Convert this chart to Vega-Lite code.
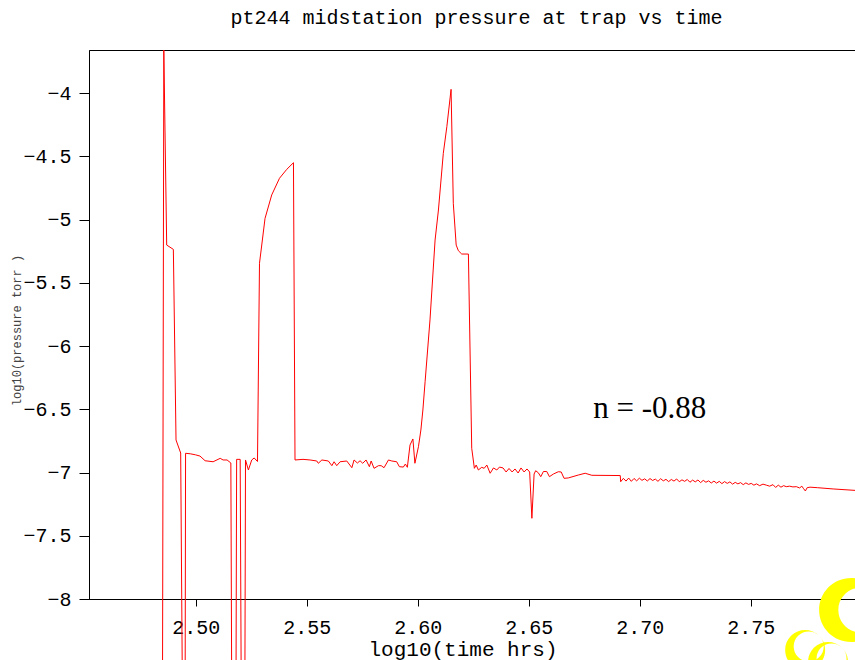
{
  "$schema": "https://vega.github.io/schema/vega-lite/v6.json",
  "width": 767,
  "height": 549,
  "autosize": {"type": "none"},
  "padding": {"left": 89, "top": 50, "right": 0, "bottom": 61},
  "background": "white",
  "config": {"view": {"stroke": "#000", "strokeWidth": 1}, "font": "Liberation Mono"},
  "title": {"text": "pt244 midstation pressure at trap vs time", "font": "Liberation Mono", "fontSize": 20, "fontWeight": "normal", "color": "#000", "anchor": "middle", "baseline": "alphabetic", "offset": 4, "dx": 4},
  "layer": [
    {
      "data": {"values": [
        {"t": 2.4850, "p": -8.8},
        {"t": 2.4856, "p": -3.66},
        {"t": 2.4869, "p": -5.202},
        {"t": 2.4899, "p": -5.236},
        {"t": 2.4911, "p": -6.743},
        {"t": 2.4932, "p": -6.846},
        {"t": 2.4940, "p": -8.8},
        {"t": 2.4952, "p": -8.8},
        {"t": 2.4954, "p": -6.848},
        {"t": 2.4975, "p": -6.852},
        {"t": 2.4998, "p": -6.860},
        {"t": 2.5019, "p": -6.870},
        {"t": 2.5042, "p": -6.907},
        {"t": 2.5078, "p": -6.915},
        {"t": 2.5110, "p": -6.888},
        {"t": 2.5123, "p": -6.901},
        {"t": 2.5141, "p": -6.901},
        {"t": 2.5158, "p": -6.925},
        {"t": 2.5162, "p": -8.8},
        {"t": 2.5181, "p": -8.8},
        {"t": 2.5184, "p": -6.896},
        {"t": 2.5200, "p": -6.896},
        {"t": 2.5205, "p": -8.8},
        {"t": 2.5221, "p": -8.8},
        {"t": 2.5224, "p": -6.901},
        {"t": 2.5237, "p": -6.980},
        {"t": 2.5252, "p": -6.901},
        {"t": 2.5263, "p": -6.885},
        {"t": 2.5278, "p": -6.913},
        {"t": 2.5287, "p": -5.346},
        {"t": 2.5312, "p": -4.991},
        {"t": 2.5342, "p": -4.806},
        {"t": 2.5377, "p": -4.674},
        {"t": 2.5410, "p": -4.603},
        {"t": 2.5440, "p": -4.551},
        {"t": 2.5447, "p": -6.901},
        {"t": 2.5483, "p": -6.896},
        {"t": 2.5515, "p": -6.901},
        {"t": 2.5545, "p": -6.909},
        {"t": 2.5552, "p": -6.927},
        {"t": 2.5568, "p": -6.901},
        {"t": 2.5597, "p": -6.909},
        {"t": 2.5613, "p": -6.946},
        {"t": 2.5623, "p": -6.915},
        {"t": 2.5635, "p": -6.946},
        {"t": 2.5650, "p": -6.915},
        {"t": 2.5680, "p": -6.909},
        {"t": 2.5703, "p": -6.962},
        {"t": 2.5713, "p": -6.901},
        {"t": 2.5728, "p": -6.925},
        {"t": 2.5740, "p": -6.907},
        {"t": 2.5752, "p": -6.927},
        {"t": 2.5767, "p": -6.901},
        {"t": 2.5782, "p": -6.954},
        {"t": 2.5790, "p": -6.909},
        {"t": 2.5803, "p": -6.967},
        {"t": 2.5823, "p": -6.946},
        {"t": 2.5835, "p": -6.946},
        {"t": 2.5848, "p": -6.962},
        {"t": 2.5868, "p": -6.901},
        {"t": 2.5883, "p": -6.909},
        {"t": 2.5905, "p": -6.915},
        {"t": 2.5917, "p": -6.954},
        {"t": 2.5935, "p": -6.957},
        {"t": 2.5944, "p": -6.933},
        {"t": 2.5953, "p": -6.959},
        {"t": 2.5965, "p": -6.783},
        {"t": 2.5978, "p": -6.735},
        {"t": 2.5987, "p": -6.927},
        {"t": 2.6003, "p": -6.796},
        {"t": 2.6014, "p": -6.664},
        {"t": 2.6023, "p": -6.506},
        {"t": 2.6033, "p": -6.282},
        {"t": 2.6055, "p": -5.794},
        {"t": 2.6078, "p": -5.162},
        {"t": 2.6093, "p": -4.925},
        {"t": 2.6115, "p": -4.477},
        {"t": 2.6131, "p": -4.266},
        {"t": 2.6150, "p": -3.971},
        {"t": 2.6160, "p": -4.872},
        {"t": 2.6173, "p": -5.202},
        {"t": 2.6183, "p": -5.247},
        {"t": 2.6198, "p": -5.273},
        {"t": 2.6228, "p": -5.273},
        {"t": 2.6243, "p": -6.809},
        {"t": 2.6255, "p": -6.967},
        {"t": 2.6263, "p": -6.941},
        {"t": 2.6273, "p": -6.980},
        {"t": 2.6288, "p": -6.959},
        {"t": 2.6299, "p": -6.967},
        {"t": 2.6311, "p": -6.941},
        {"t": 2.6326, "p": -7.006},
        {"t": 2.6341, "p": -6.964},
        {"t": 2.6356, "p": -6.980},
        {"t": 2.6368, "p": -6.957},
        {"t": 2.6384, "p": -6.964},
        {"t": 2.6398, "p": -6.996},
        {"t": 2.6411, "p": -6.968},
        {"t": 2.6425, "p": -6.996},
        {"t": 2.6438, "p": -6.972},
        {"t": 2.6452, "p": -7.004},
        {"t": 2.6465, "p": -6.964},
        {"t": 2.6479, "p": -6.996},
        {"t": 2.6492, "p": -6.972},
        {"t": 2.6504, "p": -6.996},
        {"t": 2.6514, "p": -7.362},
        {"t": 2.6524, "p": -7.012},
        {"t": 2.6531, "p": -6.986},
        {"t": 2.6543, "p": -7.002},
        {"t": 2.6554, "p": -7.033},
        {"t": 2.6566, "p": -6.992},
        {"t": 2.6581, "p": -6.992},
        {"t": 2.6593, "p": -7.033},
        {"t": 2.6611, "p": -7.012},
        {"t": 2.6633, "p": -6.994},
        {"t": 2.6646, "p": -6.996},
        {"t": 2.6659, "p": -7.046},
        {"t": 2.6678, "p": -7.043},
        {"t": 2.6723, "p": -7.020},
        {"t": 2.6754, "p": -7.006},
        {"t": 2.6784, "p": -7.022},
        {"t": 2.6912, "p": -7.024},
        {"t": 2.6914, "p": -7.073},
        {"t": 2.6926, "p": -7.046},
        {"t": 2.6938, "p": -7.068},
        {"t": 2.6950, "p": -7.044},
        {"t": 2.6962, "p": -7.070},
        {"t": 2.6974, "p": -7.047},
        {"t": 2.6986, "p": -7.066},
        {"t": 2.6998, "p": -7.045},
        {"t": 2.7010, "p": -7.062},
        {"t": 2.7022, "p": -7.050},
        {"t": 2.7034, "p": -7.067},
        {"t": 2.7046, "p": -7.048},
        {"t": 2.7058, "p": -7.063},
        {"t": 2.7070, "p": -7.052},
        {"t": 2.7082, "p": -7.070},
        {"t": 2.7094, "p": -7.049},
        {"t": 2.7106, "p": -7.066},
        {"t": 2.7118, "p": -7.054},
        {"t": 2.7130, "p": -7.072},
        {"t": 2.7142, "p": -7.055},
        {"t": 2.7154, "p": -7.068},
        {"t": 2.7166, "p": -7.051},
        {"t": 2.7178, "p": -7.073},
        {"t": 2.7190, "p": -7.058},
        {"t": 2.7202, "p": -7.070},
        {"t": 2.7214, "p": -7.055},
        {"t": 2.7226, "p": -7.077},
        {"t": 2.7238, "p": -7.060},
        {"t": 2.7250, "p": -7.074},
        {"t": 2.7262, "p": -7.059},
        {"t": 2.7274, "p": -7.080},
        {"t": 2.7286, "p": -7.062},
        {"t": 2.7298, "p": -7.077},
        {"t": 2.7310, "p": -7.066},
        {"t": 2.7322, "p": -7.083},
        {"t": 2.7334, "p": -7.068},
        {"t": 2.7346, "p": -7.084},
        {"t": 2.7358, "p": -7.070},
        {"t": 2.7370, "p": -7.088},
        {"t": 2.7382, "p": -7.072},
        {"t": 2.7394, "p": -7.086},
        {"t": 2.7406, "p": -7.074},
        {"t": 2.7418, "p": -7.092},
        {"t": 2.7430, "p": -7.078},
        {"t": 2.7442, "p": -7.090},
        {"t": 2.7454, "p": -7.080},
        {"t": 2.7466, "p": -7.096},
        {"t": 2.7478, "p": -7.082},
        {"t": 2.7490, "p": -7.094},
        {"t": 2.7502, "p": -7.086},
        {"t": 2.7514, "p": -7.100},
        {"t": 2.7526, "p": -7.090},
        {"t": 2.7540, "p": -7.104},
        {"t": 2.7555, "p": -7.092},
        {"t": 2.7570, "p": -7.100},
        {"t": 2.7585, "p": -7.108},
        {"t": 2.7600, "p": -7.096},
        {"t": 2.7612, "p": -7.118},
        {"t": 2.7624, "p": -7.100},
        {"t": 2.7636, "p": -7.116},
        {"t": 2.7648, "p": -7.104},
        {"t": 2.7660, "p": -7.112},
        {"t": 2.7675, "p": -7.108},
        {"t": 2.7690, "p": -7.114},
        {"t": 2.7705, "p": -7.112},
        {"t": 2.7720, "p": -7.122},
        {"t": 2.7730, "p": -7.108},
        {"t": 2.7738, "p": -7.128},
        {"t": 2.7746, "p": -7.146},
        {"t": 2.7754, "p": -7.120},
        {"t": 2.7767, "p": -7.116},
        {"t": 2.7800, "p": -7.120},
        {"t": 2.7871, "p": -7.130},
        {"t": 2.7975, "p": -7.142}
      ]},
      "mark": {"type": "line", "color": "#ff0000", "strokeWidth": 1, "clip": false},
      "encoding": {
        "x": {"field": "t", "type": "quantitative",
          "scale": {"domain": [2.4519, 2.7974], "nice": false, "zero": false},
          "axis": {"values": [2.5, 2.55, 2.6, 2.65, 2.7, 2.75], "format": ".2f", "grid": false,
            "labelFont": "Liberation Mono", "labelFontSize": 20, "labelColor": "#000", "labelPadding": 11,
            "tickColor": "#000", "tickSize": 7, "domainColor": "#000", "domainWidth": 1,
            "title": "log10(time hrs)", "titleFont": "Liberation Mono", "titleFontSize": 21, "titleFontWeight": "normal", "titleColor": "#000",
            "titleX": 373.5, "titleY": 56, "titleBaseline": "alphabetic", "titleAlign": "center"}},
        "y": {"field": "p", "type": "quantitative",
          "scale": {"domain": [-8, -3.66], "nice": false, "zero": false},
          "axis": {"values": [-8, -7.5, -7, -6.5, -6, -5.5, -5, -4.5, -4], "format": ".1~f", "grid": false,
            "labelFont": "Liberation Mono", "labelFontSize": 20, "labelColor": "#000", "labelPadding": 8,
            "tickColor": "#000", "tickSize": 10, "domainColor": "#000", "domainWidth": 1,
            "title": "log10(pressure torr )", "titleFont": "Liberation Mono", "titleFontSize": 12, "titleFontWeight": "normal", "titleColor": "#444",
            "titleX": -73, "titleY": 280, "titleAngle": -90, "titleBaseline": "middle", "titleAlign": "center"}}
      }
    },
    {
      "data": {"values": [{"t": 2.679, "p": -6.57, "label": "n = -0.88"}]},
      "mark": {"type": "text", "align": "left", "baseline": "alphabetic", "font": "Liberation Serif", "fontSize": 31, "color": "#000", "clip": false},
      "encoding": {
        "x": {"field": "t", "type": "quantitative", "scale": {"domain": [2.4519, 2.7974], "nice": false, "zero": false}},
        "y": {"field": "p", "type": "quantitative", "scale": {"domain": [-8, -3.66], "nice": false, "zero": false}},
        "text": {"field": "label"}
      }
    },
    {
      "data": {"values": [{"t": 2.7952, "p": -8.087}]},
      "mark": {"type": "point", "shape": "M -1 0 A 1 1 0 1 1 1 0 A 1 1 0 1 1 -1 0 Z M -0.4 0 A 0.7 0.7 0 1 0 1 0 A 0.7 0.7 0 1 0 -0.4 0 Z", "filled": true, "fill": "#ffff00", "stroke": null, "opacity": 1, "size": 4096, "clip": false},
      "encoding": {
        "x": {"field": "t", "type": "quantitative", "scale": {"domain": [2.4519, 2.7974], "nice": false, "zero": false}},
        "y": {"field": "p", "type": "quantitative", "scale": {"domain": [-8, -3.66], "nice": false, "zero": false}}
      }
    },
    {
      "data": {"values": [{"t": 2.7745, "p": -8.403}, {"t": 2.7848, "p": -8.498}]},
      "mark": {"type": "point", "shape": "M -1 0 A 1 1 0 1 1 1 0 A 1 1 0 1 1 -1 0 Z M -0.5 0 A 0.75 0.75 0 1 0 1 0 A 0.75 0.75 0 1 0 -0.5 0 Z", "filled": true, "fill": "#ffff00", "stroke": null, "opacity": 1, "size": 1600, "angle": -45, "clip": false},
      "encoding": {
        "x": {"field": "t", "type": "quantitative", "scale": {"domain": [2.4519, 2.7974], "nice": false, "zero": false}},
        "y": {"field": "p", "type": "quantitative", "scale": {"domain": [-8, -3.66], "nice": false, "zero": false}}
      }
    }
  ]
}
